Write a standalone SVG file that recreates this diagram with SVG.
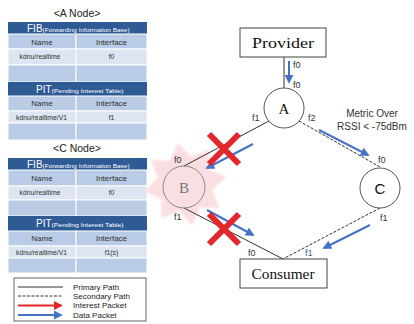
<svg xmlns="http://www.w3.org/2000/svg" width="414" height="324" viewBox="0 0 414 324">
  <style>
    .ttl { font-family: "Liberation Sans", Arial, sans-serif; font-size: 10.5px; fill: #222; text-anchor: middle; }
    .hdr { fill: #2F5B95; }
    .rowA { fill: #B9CBE5; stroke: #fff; stroke-width: 1; }
    .rowB { fill: #DCE5F1; stroke: #fff; stroke-width: 1; }
    .hbig { font-family: "Liberation Sans", Arial, sans-serif; font-size: 10px; fill: #fff; }
    .hsmall { font-family: "Liberation Sans", Arial, sans-serif; font-size: 5.5px; fill: #fff; }
    .cell { font-family: "Liberation Sans", Arial, sans-serif; font-size: 8px; fill: #333; text-anchor: middle; }
    .cellS { font-family: "Liberation Sans", Arial, sans-serif; font-size: 6.8px; fill: #333; text-anchor: middle; }
    .node { fill: #fff; stroke: #555; stroke-width: 1; }
    .serif { font-family: "Liberation Serif", "Times New Roman", serif; fill: #111; text-anchor: middle; }
    .lbl { font-family: "Liberation Sans", Arial, sans-serif; font-size: 9px; fill: #333; }
    .note { font-family: "Liberation Sans", Arial, sans-serif; font-size: 10px; fill: #333; text-anchor: middle; }
    .leg { font-family: "Liberation Sans", Arial, sans-serif; font-size: 8px; fill: #222; }
    .solid { stroke: #333; stroke-width: 1; fill: none; }
    .dash { stroke: #333; stroke-width: 1; fill: none; stroke-dasharray: 3 1.5; }
    .data { stroke: #4472C4; stroke-width: 2; fill: none; marker-end: url(#blueHead); }
    .interest { stroke: #E3262B; stroke-width: 2; fill: none; marker-end: url(#redHead); }
    .cross { stroke: #E3262B; stroke-width: 6; }
  </style>
  <defs>
    <marker id="blueHead" viewBox="0 0 10 10" refX="8" refY="5" markerWidth="4.5" markerHeight="4.5" orient="auto" markerUnits="strokeWidth">
      <path d="M0,0 L10,5 L0,10 Z" fill="#4472C4"/>
    </marker>
    <marker id="redHead" viewBox="0 0 10 10" refX="8" refY="5" markerWidth="4.5" markerHeight="4.5" orient="auto" markerUnits="strokeWidth">
      <path d="M0,0 L10,5 L0,10 Z" fill="#E3262B"/>
    </marker>
    <filter id="soft" x="-20%" y="-20%" width="140%" height="140%">
      <feGaussianBlur stdDeviation="0.8"/>
    </filter>
  </defs>

  <rect width="414" height="324" fill="#fff"/>

  <!-- Table set for node A -->
  <g id="tableA">
    <text class="ttl" x="77" y="17">&lt;A Node&gt;</text>
    <rect class="hdr" x="8" y="22" width="139" height="12"/>
    <text x="27" y="31.5"><tspan class="hbig">FIB</tspan><tspan class="hsmall" textLength="87" lengthAdjust="spacingAndGlyphs">(Forwarding Information Base)</tspan></text>
    <rect class="rowA" x="8" y="34" width="68" height="15"/>
    <rect class="rowA" x="76" y="34" width="71" height="15"/>
    <rect class="rowB" x="8" y="49" width="68" height="16"/>
    <rect class="rowB" x="76" y="49" width="71" height="16"/>
    <rect class="rowA" x="8" y="65" width="68" height="17"/>
    <rect class="rowA" x="76" y="65" width="71" height="17"/>
    <text class="cell" x="42" y="44.5">Name</text>
    <text class="cell" x="111.5" y="44.5">Interface</text>
    <text class="cellS" x="40" y="59">kdnu/realtime</text>
    <text class="cellS" x="111.5" y="59">f0</text>

    <rect class="hdr" x="8" y="82" width="139" height="14"/>
    <text x="36" y="92.5"><tspan class="hbig">PIT</tspan><tspan class="hsmall" textLength="72" lengthAdjust="spacingAndGlyphs">(Pending Interest Table)</tspan></text>
    <rect class="rowA" x="8" y="96" width="68" height="15"/>
    <rect class="rowA" x="76" y="96" width="71" height="15"/>
    <rect class="rowB" x="8" y="111" width="68" height="12"/>
    <rect class="rowB" x="76" y="111" width="71" height="12"/>
    <rect class="rowA" x="8" y="123" width="68" height="17"/>
    <rect class="rowA" x="76" y="123" width="71" height="17"/>
    <text class="cell" x="42" y="106">Name</text>
    <text class="cell" x="111.5" y="106">Interface</text>
    <text class="cellS" x="41.5" y="119.5">kdnu/realtime/V1</text>
    <text class="cellS" x="111.5" y="119.5">f1</text>
  </g>

  <!-- Table set for node C -->
  <g id="tableC">
    <text class="ttl" x="77" y="152">&lt;C Node&gt;</text>
    <rect class="hdr" x="8" y="158" width="139" height="12"/>
    <text x="27" y="167.5"><tspan class="hbig">FIB</tspan><tspan class="hsmall" textLength="87" lengthAdjust="spacingAndGlyphs">(Forwarding Information Base)</tspan></text>
    <rect class="rowA" x="8" y="170" width="68" height="16"/>
    <rect class="rowA" x="76" y="170" width="71" height="16"/>
    <rect class="rowB" x="8" y="186" width="68" height="14"/>
    <rect class="rowB" x="76" y="186" width="71" height="14"/>
    <rect class="rowA" x="8" y="200" width="68" height="16"/>
    <rect class="rowA" x="76" y="200" width="71" height="16"/>
    <text class="cell" x="42" y="181">Name</text>
    <text class="cell" x="111.5" y="181">Interface</text>
    <text class="cellS" x="40" y="195">kdnu/realtime</text>
    <text class="cellS" x="111.5" y="195">f0</text>

    <rect class="hdr" x="8" y="216" width="139" height="15"/>
    <text x="36" y="227"><tspan class="hbig">PIT</tspan><tspan class="hsmall" textLength="72" lengthAdjust="spacingAndGlyphs">(Pending Interest Table)</tspan></text>
    <rect class="rowA" x="8" y="231" width="68" height="15"/>
    <rect class="rowA" x="76" y="231" width="71" height="15"/>
    <rect class="rowB" x="8" y="246" width="68" height="12"/>
    <rect class="rowB" x="76" y="246" width="71" height="12"/>
    <rect class="rowA" x="8" y="258" width="68" height="15"/>
    <rect class="rowA" x="76" y="258" width="71" height="15"/>
    <text class="cell" x="42" y="241">Name</text>
    <text class="cell" x="111.5" y="241">Interface</text>
    <text class="cellS" x="41.5" y="254.5">kdnu/realtime/V1</text>
    <text class="cellS" x="111.5" y="254.5">f1(s)</text>
  </g>

  <!-- Legend -->
  <g id="legend">
    <rect x="14" y="278" width="132" height="43" fill="#fff" stroke="#666" stroke-width="1"/>
    <line class="solid" x1="18" y1="287" x2="63" y2="287"/>
    <line class="dash" x1="18" y1="296" x2="63" y2="296"/>
    <line class="interest" x1="18" y1="305.5" x2="61" y2="305.5"/>
    <line class="data" x1="18" y1="315" x2="61" y2="315"/>
    <text class="leg" x="73" y="289.5">Primary Path</text>
    <text class="leg" x="73" y="298.5">Secondary Path</text>
    <text class="leg" x="73" y="308">Interest Packet</text>
    <text class="leg" x="73" y="317.5">Data Packet</text>
  </g>

  <!-- Highlight behind the failed node B -->
  <polygon id="failGlow" fill="#FADFE2" filter="url(#soft)" points="177.7,142.6 191.1,156.7 209.1,149.6 208.6,169 226.4,176.7 212.3,190.1 219.4,208.1 200,207.6 192.3,225.4 178.9,211.3 160.9,218.4 161.4,199 143.6,191.3 157.7,177.9 150.6,159.9 170,160.4"/>

  <!-- Connectors -->
  <g id="connectors">
    <line class="solid" x1="284" y1="57" x2="284" y2="88"/>
    <line class="solid" x1="269" y1="121" x2="184" y2="166"/>
    <line class="solid" x1="184" y1="208" x2="283" y2="259"/>
    <line class="dash" x1="299" y1="121" x2="380" y2="167"/>
    <line class="dash" x1="380" y1="208" x2="283" y2="259"/>
  </g>

  <!-- Nodes -->
  <g id="provider">
    <rect x="240" y="28" width="86" height="29" fill="#fff" stroke="#444" stroke-width="1"/>
    <text class="serif" x="283" y="48" font-size="15.5" textLength="62" lengthAdjust="spacingAndGlyphs">Provider</text>
  </g>
  <g id="nodeA">
    <circle class="node" cx="284" cy="108" r="20"/>
    <text class="serif" x="284" y="114" font-size="15">A</text>
  </g>
  <g id="nodeB">
    <circle cx="184" cy="187" r="21" fill="none" stroke="#888" stroke-width="1"/>
    <text class="serif" x="184" y="193" font-size="15" style="fill:#777">B</text>
  </g>
  <g id="nodeC">
    <circle class="node" cx="380" cy="188" r="20"/>
    <text x="380" y="194" font-family="Liberation Sans, Arial, sans-serif" font-size="15" fill="#111" text-anchor="middle">C</text>
  </g>
  <g id="consumer">
    <rect x="240" y="259" width="87" height="29" fill="#fff" stroke="#444" stroke-width="1"/>
    <text class="serif" x="283" y="279" font-size="15.5" textLength="63" lengthAdjust="spacingAndGlyphs">Consumer</text>
  </g>

  <!-- Interface labels -->
  <g id="faces">
    <text class="lbl" x="293" y="68">f0</text>
    <text class="lbl" x="293" y="88">f0</text>
    <text class="lbl" x="252" y="121">f1</text>
    <text class="lbl" x="308" y="121">f2</text>
    <text class="lbl" x="174" y="163">f0</text>
    <text class="lbl" x="174" y="220">f1</text>
    <text class="lbl" x="378" y="163">f0</text>
    <text class="lbl" x="380" y="221">f1</text>
    <text class="lbl" x="248" y="256">f0</text>
    <text class="lbl" x="305" y="256" style="fill:#3D5F99">f1</text>
  </g>

  <text class="note" x="372" y="117">Metric Over</text>
  <text class="note" x="372" y="130">RSSI &lt; -75dBm</text>

  <!-- Packet flows -->
  <g id="flows">
    <line class="data" x1="289" y1="61" x2="289" y2="82"/>
    <line class="data" x1="253" y1="144" x2="207" y2="168"/>
    <line class="data" x1="207" y1="210" x2="253" y2="235"/>
    <line class="data" x1="319" y1="130" x2="368" y2="155"/>
    <line class="data" x1="370" y1="225" x2="324" y2="248"/>
  </g>

  <!-- Broken links -->
  <g id="breaks">
    <path class="cross" d="M209,134 L239,164 M239,134 L209,164"/>
    <path class="cross" d="M209,214 L239,244 M239,214 L209,244"/>
  </g>
</svg>
